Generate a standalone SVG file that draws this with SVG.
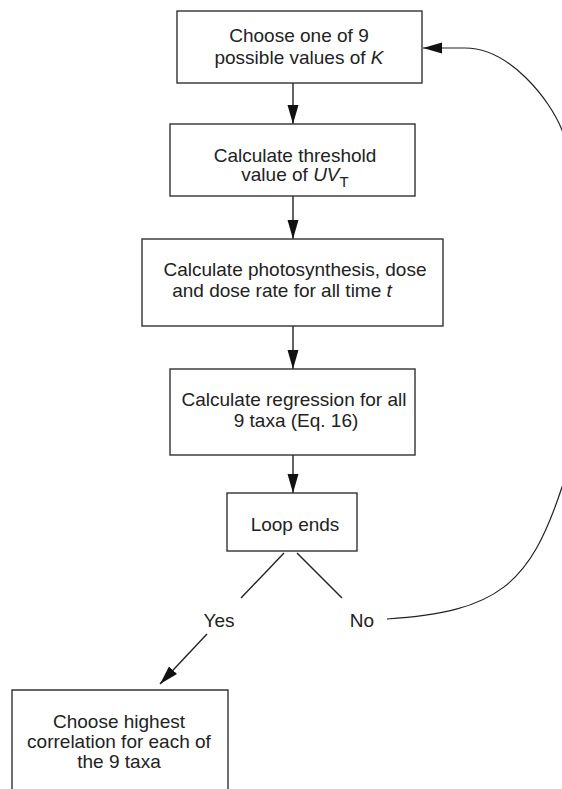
<svg xmlns="http://www.w3.org/2000/svg" width="562" height="789" viewBox="0 0 562 789">
<style>
.box{fill:#fff;stroke:#333;stroke-width:1.4}
.conn{fill:none;stroke:#222;stroke-width:1.4}
.curve{fill:none;stroke:#222;stroke-width:1.2}
text{font-family:"Liberation Sans",Arial,sans-serif;font-size:19px;fill:#222;text-anchor:middle}
.i{font-style:italic}
</style>
<defs>
<marker id="ah" markerUnits="userSpaceOnUse" markerWidth="20" markerHeight="12" refX="19" refY="6" orient="auto">
<path d="M0,0.5 L19,6 L0,11.5 z" fill="#111"/>
</marker>
</defs>
<rect width="562" height="789" fill="#fff"/>
<g id="connectors">
<line class="conn" x1="293" y1="83" x2="293" y2="124" marker-end="url(#ah)"/>
<line class="conn" x1="293" y1="196" x2="293" y2="239" marker-end="url(#ah)"/>
<line class="conn" x1="293" y1="326" x2="293" y2="369" marker-end="url(#ah)"/>
<line class="conn" x1="293" y1="455" x2="293" y2="493" marker-end="url(#ah)"/>
<line class="conn" x1="284" y1="553" x2="241" y2="598"/>
<line class="conn" x1="297" y1="553" x2="342" y2="598"/>
<line class="conn" x1="207" y1="634" x2="160" y2="684" marker-end="url(#ah)"/>
<path class="curve" d="M387,619 C497,612 530,585 562,487 C607,379 598,220 562,130 C550,100 510,48 465,48 L423,48" marker-end="url(#ah)"/>
</g>
<g id="node-choose-k">
<rect class="box" x="177" y="11" width="245" height="72"/>
<text x="299" y="42">Choose one of 9</text>
<text x="299" y="64">possible values of <tspan class="i">K</tspan></text>
</g>
<g id="node-threshold">
<rect class="box" x="170" y="124" width="245" height="72"/>
<text x="295" y="162">Calculate threshold</text>
<text x="295" y="181">value of <tspan class="i">UV</tspan><tspan font-size="15" dy="6">T</tspan></text>
</g>
<g id="node-photosynthesis">
<rect class="box" x="142" y="239" width="301" height="87"/>
<text x="295" y="276">Calculate photosynthesis, dose</text>
<text x="282" y="297">and dose rate for all time <tspan class="i">t</tspan></text>
</g>
<g id="node-regression">
<rect class="box" x="170" y="369" width="245" height="86"/>
<text x="294" y="406">Calculate regression for all</text>
<text x="296" y="427">9 taxa (Eq. 16)</text>
</g>
<g id="node-loop">
<rect class="box" x="227" y="493" width="130" height="58"/>
<text x="295" y="531">Loop ends</text>
</g>
<g id="label-yes"><text x="219" y="627">Yes</text></g>
<g id="label-no"><text x="362" y="627">No</text></g>
<g id="node-highest">
<path class="box" d="M12,789 V690 H228 V789"/>
<text x="119" y="728">Choose highest</text>
<text x="119" y="748">correlation for each of</text>
<text x="119" y="768">the 9 taxa</text>
</g>
</svg>
